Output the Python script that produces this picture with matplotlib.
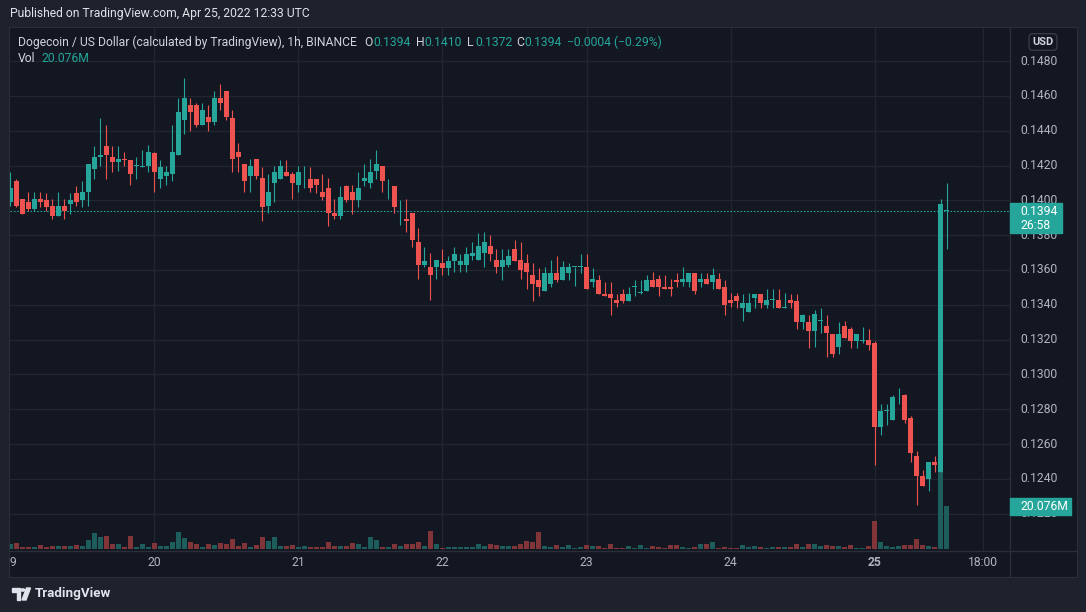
import matplotlib
matplotlib.use("Agg")
import matplotlib.pyplot as plt
import matplotlib.transforms as mtransforms
from matplotlib.patches import Rectangle, Polygon, Circle
import numpy as np

plt.rcParams["font.family"] = ["Roboto", "DejaVu Sans"]

# DOGE/USD hourly candles, from 19 Apr 2022 00:00 UTC
opens = [0.1399, 0.1411, 0.1401, 0.1399, 0.1395, 0.1401, 0.1400, 0.1397, 0.1391, 0.1397,
         0.1398, 0.1404, 0.1400, 0.1405, 0.1418, 0.1425, 0.1431, 0.1425, 0.1422, 0.1424,
         0.1423, 0.1420, 0.1419, 0.1420, 0.1427, 0.1412, 0.1414, 0.1415, 0.1426, 0.1446,
         0.1455, 0.1455, 0.1443, 0.1448, 0.1445, 0.1459, 0.1463, 0.1447, 0.1428, 0.1421,
         0.1414, 0.1424, 0.1413, 0.1397, 0.1410, 0.1412, 0.1416, 0.1415, 0.1409, 0.1412,
         0.1412, 0.1412, 0.1405, 0.1407, 0.1393, 0.1391, 0.1408, 0.1405, 0.1400, 0.1411,
         0.1410, 0.1417, 0.1420, 0.1408, 0.1408, 0.1392, 0.1389, 0.1393, 0.1376, 0.1363,
         0.1362, 0.1362, 0.1364, 0.1361, 0.1365, 0.1363, 0.1363, 0.1368, 0.1366, 0.1370,
         0.1374, 0.1366, 0.1362, 0.1363, 0.1372, 0.1366, 0.1364, 0.1357, 0.1354, 0.1348,
         0.1352, 0.1358, 0.1354, 0.1358, 0.1362, 0.1362, 0.1362, 0.1353, 0.1354, 0.1346,
         0.1346, 0.1343, 0.1346, 0.1342, 0.1350, 0.1347, 0.1348, 0.1354, 0.1355, 0.1350,
         0.1350, 0.1354, 0.1353, 0.1353, 0.1358, 0.1353, 0.1355, 0.1353, 0.1355, 0.1350,
         0.1343, 0.1345, 0.1338, 0.1336, 0.1344, 0.1346, 0.1340, 0.1343, 0.1343, 0.1338,
         0.1343, 0.1342, 0.1330, 0.1330, 0.1325, 0.1331, 0.1328, 0.1323, 0.1316, 0.1328,
         0.1326, 0.1319, 0.1319, 0.1320, 0.1318, 0.1270, 0.1279, 0.1274, 0.1288, 0.1288,
         0.1275, 0.1253, 0.1242, 0.1240, 0.1250, 0.1244, 0.1394]
highs = [0.1416, 0.1412, 0.1401, 0.1405, 0.1405, 0.1405, 0.1404, 0.1401, 0.1405, 0.1401,
         0.1404, 0.1408, 0.1411, 0.1421, 0.1431, 0.1447, 0.1443, 0.1431, 0.1431, 0.1428,
         0.1423, 0.1425, 0.1429, 0.1432, 0.1428, 0.1423, 0.1420, 0.1443, 0.1459, 0.1470,
         0.1459, 0.1456, 0.1456, 0.1455, 0.1463, 0.1467, 0.1463, 0.1452, 0.1433, 0.1421,
         0.1424, 0.1424, 0.1419, 0.1415, 0.1420, 0.1423, 0.1423, 0.1416, 0.1420, 0.1420,
         0.1419, 0.1412, 0.1415, 0.1413, 0.1401, 0.1408, 0.1409, 0.1409, 0.1416, 0.1421,
         0.1424, 0.1429, 0.1420, 0.1412, 0.1408, 0.1400, 0.1401, 0.1393, 0.1384, 0.1373,
         0.1370, 0.1366, 0.1372, 0.1368, 0.1373, 0.1369, 0.1373, 0.1376, 0.1381, 0.1382,
         0.1380, 0.1372, 0.1372, 0.1372, 0.1377, 0.1376, 0.1369, 0.1364, 0.1361, 0.1362,
         0.1366, 0.1368, 0.1365, 0.1364, 0.1362, 0.1369, 0.1369, 0.1361, 0.1357, 0.1353,
         0.1353, 0.1346, 0.1349, 0.1350, 0.1354, 0.1354, 0.1357, 0.1359, 0.1357, 0.1357,
         0.1355, 0.1358, 0.1362, 0.1358, 0.1358, 0.1358, 0.1358, 0.1361, 0.1358, 0.1354,
         0.1347, 0.1347, 0.1346, 0.1347, 0.1346, 0.1346, 0.1349, 0.1349, 0.1349, 0.1347,
         0.1346, 0.1346, 0.1335, 0.1334, 0.1337, 0.1338, 0.1334, 0.1323, 0.1330, 0.1331,
         0.1327, 0.1323, 0.1327, 0.1326, 0.1319, 0.1283, 0.1283, 0.1288, 0.1292, 0.1289,
         0.1276, 0.1256, 0.1245, 0.1250, 0.1253, 0.1401, 0.1410]
lows = [0.1397, 0.1396, 0.1392, 0.1394, 0.1394, 0.1396, 0.1394, 0.1389, 0.1391, 0.1389,
        0.1392, 0.1397, 0.1396, 0.1397, 0.1412, 0.1420, 0.1412, 0.1416, 0.1417, 0.1420,
        0.1409, 0.1412, 0.1419, 0.1416, 0.1405, 0.1407, 0.1409, 0.1411, 0.1426, 0.1438,
        0.1440, 0.1442, 0.1443, 0.1440, 0.1443, 0.1452, 0.1446, 0.1416, 0.1416, 0.1405,
        0.1405, 0.1412, 0.1388, 0.1393, 0.1399, 0.1412, 0.1414, 0.1401, 0.1405, 0.1407,
        0.1405, 0.1404, 0.1400, 0.1385, 0.1389, 0.1389, 0.1399, 0.1392, 0.1396, 0.1408,
        0.1407, 0.1412, 0.1405, 0.1401, 0.1393, 0.1386, 0.1382, 0.1373, 0.1355, 0.1362,
        0.1343, 0.1355, 0.1357, 0.1357, 0.1359, 0.1359, 0.1359, 0.1366, 0.1366, 0.1362,
        0.1365, 0.1358, 0.1354, 0.1362, 0.1365, 0.1355, 0.1349, 0.1342, 0.1345, 0.1348,
        0.1350, 0.1353, 0.1354, 0.1354, 0.1351, 0.1358, 0.1349, 0.1350, 0.1346, 0.1345,
        0.1334, 0.1339, 0.1341, 0.1342, 0.1345, 0.1346, 0.1348, 0.1350, 0.1345, 0.1349,
        0.1345, 0.1350, 0.1351, 0.1350, 0.1346, 0.1350, 0.1352, 0.1349, 0.1349, 0.1334,
        0.1339, 0.1338, 0.1331, 0.1336, 0.1338, 0.1338, 0.1338, 0.1338, 0.1338, 0.1338,
        0.1338, 0.1326, 0.1326, 0.1315, 0.1316, 0.1324, 0.1310, 0.1310, 0.1312, 0.1321,
        0.1315, 0.1315, 0.1318, 0.1314, 0.1248, 0.1265, 0.1271, 0.1274, 0.1283, 0.1272,
        0.1250, 0.1225, 0.1236, 0.1233, 0.1244, 0.1244, 0.1372]
closes = [0.1407, 0.1397, 0.1392, 0.1395, 0.1401, 0.1399, 0.1396, 0.1391, 0.1397, 0.1394,
          0.1400, 0.1399, 0.1405, 0.1421, 0.1425, 0.1426, 0.1426, 0.1422, 0.1424, 0.1423,
          0.1415, 0.1420, 0.1420, 0.1428, 0.1416, 0.1419, 0.1416, 0.1428, 0.1451, 0.1459,
          0.1451, 0.1443, 0.1452, 0.1445, 0.1459, 0.1456, 0.1448, 0.1424, 0.1425, 0.1411,
          0.1420, 0.1414, 0.1396, 0.1405, 0.1416, 0.1420, 0.1414, 0.1410, 0.1416, 0.1412,
          0.1407, 0.1409, 0.1402, 0.1393, 0.1391, 0.1402, 0.1400, 0.1400, 0.1407, 0.1413,
          0.1416, 0.1421, 0.1411, 0.1408, 0.1396, 0.1392, 0.1388, 0.1377, 0.1363, 0.1365,
          0.1357, 0.1366, 0.1361, 0.1365, 0.1369, 0.1365, 0.1369, 0.1370, 0.1374, 0.1376,
          0.1369, 0.1362, 0.1366, 0.1368, 0.1365, 0.1360, 0.1359, 0.1352, 0.1350, 0.1358,
          0.1358, 0.1354, 0.1362, 0.1362, 0.1362, 0.1362, 0.1349, 0.1355, 0.1346, 0.1345,
          0.1344, 0.1341, 0.1342, 0.1346, 0.1351, 0.1347, 0.1354, 0.1350, 0.1350, 0.1349,
          0.1349, 0.1353, 0.1355, 0.1358, 0.1348, 0.1355, 0.1352, 0.1357, 0.1349, 0.1340,
          0.1341, 0.1342, 0.1341, 0.1341, 0.1346, 0.1341, 0.1343, 0.1343, 0.1338, 0.1339,
          0.1341, 0.1330, 0.1334, 0.1325, 0.1335, 0.1331, 0.1324, 0.1312, 0.1323, 0.1321,
          0.1319, 0.1323, 0.1320, 0.1317, 0.1270, 0.1279, 0.1279, 0.1287, 0.1288, 0.1274,
          0.1255, 0.1242, 0.1236, 0.1250, 0.1248, 0.1398, 0.1394]
# volume in millions
volumes = [2.3, 2.8, 0.9, 0.9, 0.9, 1.9, 0.9, 1.4, 1.4, 1.4,
           1.4, 1.9, 1.4, 4.2, 7.5, 5.6, 6.1, 2.3, 2.3, 0.9,
           6.1, 0.9, 2.3, 0.9, 2.8, 1.4, 1.4, 3.3, 7.9, 5.1,
           3.3, 2.3, 0.9, 2.3, 1.9, 2.8, 2.3, 4.7, 1.4, 2.8,
           0.9, 1.9, 5.6, 3.7, 5.6, 1.4, 1.4, 1.9, 0.9, 1.4,
           0.9, 0.9, 0.9, 3.3, 1.4, 1.4, 1.4, 2.8, 2.3, 0.9,
           5.6, 4.2, 0.9, 0.9, 2.3, 1.4, 2.3, 2.3, 3.3, 1.4,
           8.4, 2.3, 0.5, 0.9, 0.9, 0.9, 0.9, 0.9, 2.3, 1.4,
           2.3, 1.9, 1.4, 1.4, 1.4, 2.3, 3.7, 3.3, 7.9, 1.4,
           0.9, 1.9, 0.9, 1.9, 0.5, 0.9, 1.9, 1.4, 1.4, 0.5,
           2.3, 0.5, 0.5, 1.4, 0.5, 1.9, 0.5, 1.4, 0.9, 0.5,
           1.9, 1.9, 0.9, 0.5, 0.9, 2.3, 2.3, 3.3, 0.5, 0.9,
           0.5, 0.5, 1.9, 0.9, 1.4, 0.9, 0.5, 0.9, 0.9, 0.9,
           0.9, 2.3, 0.9, 2.3, 2.3, 1.4, 1.9, 1.4, 1.4, 0.9,
           1.9, 0.5, 0.5, 1.4, 13.1, 3.3, 1.4, 0.9, 1.4, 1.9,
           1.9, 4.7, 1.9, 1.4, 0.9, 75.0, 20.076]

day_ticks = [0, 24, 48, 72, 96, 120, 144, 162]
day_labels = ["19", "20", "21", "22", "23", "24", "25", "18:00"]
price_ticks = [0.1220, 0.1240, 0.1260, 0.1280, 0.1300, 0.1320, 0.1340,
               0.1360, 0.1380, 0.1400, 0.1420, 0.1440, 0.1460, 0.1480]

BG = "#131722"
OUTER = "#1e222d"
GRID = "#222631"
BORDER = "#2a2e39"
UP = "#26a69a"
DOWN = "#ef5350"
VUP = "#1d5e5d"
VDOWN = "#813539"
TXT = "#d1d4dc"
AXT = "#b2b5be"

W, H = 1086, 612
fig = plt.figure(figsize=(W / 100, H / 100), dpi=100, facecolor=OUTER)


def rect(x0, y0, x1, y1):
    return [x0 / W, 1 - y1 / H, (x1 - x0) / W, (y1 - y0) / H]


frame = fig.add_axes(rect(9, 27, 1077, 577))
frame.set_facecolor(BG)
frame.set_xticks([])
frame.set_yticks([])
frame.set_xlim(0, 1)
frame.set_ylim(0, 1)
for s in frame.spines.values():
    s.set_color(BORDER)
# separators of the price scale and the time scale
frame.axvline((1010 - 9) / 1068, color=BORDER, lw=1)
frame.axhline(1 - (551 - 27) / 550, color=BORDER, lw=1)

axv = fig.add_axes(rect(10, 28, 1010, 551))
ax = fig.add_axes(rect(10, 28, 1010, 551))
axv.set_zorder(1)
ax.set_zorder(2)
for a in (ax, axv):
    a.patch.set_visible(False)
    a.axis("off")

hours = np.arange(len(opens))
o = np.array(opens)
h = np.array(highs)
l = np.array(lows)
c = np.array(closes)
v = np.array(volumes)
up = c >= o

ppx = 0.0020 / 34.83          # price per pixel
vpx = 20.076 / 43              # volume per pixel
ax.set_xlim(-0.08, 166.58)
ax.set_ylim(0.1240 - 72 * ppx, 0.1480 + 33 * ppx)
axv.set_xlim(-0.08, 166.58)
axv.set_ylim(-2 * vpx, 521 * vpx)

# grid, drawn behind the volume
gtr = mtransforms.blended_transform_factory(axv.transAxes, ax.transData)
for p in price_ticks:
    axv.plot([0, 1], [p, p], color=GRID, lw=1, transform=gtr, zorder=0)
for d in day_ticks[1:]:
    axv.axvline(d, color=GRID, lw=1, zorder=0)

axv.bar(hours, v, width=0.8, color=np.where(up, VUP, VDOWN), linewidth=0, zorder=2)

cols = np.where(up, UP, DOWN)
ax.vlines(hours, l, h, colors=cols, lw=0.8, zorder=3)
ax.bar(hours, np.maximum(np.abs(c - o), 0.6 * ppx), bottom=np.minimum(o, c),
       width=0.8, color=cols, linewidth=0, zorder=4)

last = closes[-1]
ax.axhline(last, color=UP, lw=0.8, ls=(0, (1.4, 1.6)), zorder=2)

# price scale
ytr = mtransforms.blended_transform_factory(ax.transAxes, ax.transData)
for p in price_ticks:
    ax.text(1.0105, p, f"{p:.4f}", transform=ytr, ha="left", va="center",
            color=AXT, fontsize=8.7, clip_on=False, zorder=5)
ax.add_patch(Rectangle((1.0, last - 22 * ppx), 0.052, 30 * ppx, transform=ytr,
                       color=UP, clip_on=False, zorder=10))
ax.text(1.0105, last - 0.5 * ppx, f"{last:.4f}", transform=ytr, ha="left", va="center",
        color="white", fontsize=8.7, clip_on=False, zorder=11)
ax.text(1.0105, last - 15 * ppx, "26:58", transform=ytr, ha="left", va="center",
        color="white", fontsize=8.7, clip_on=False, zorder=11)

vtr = mtransforms.blended_transform_factory(ax.transAxes, axv.transData)
vlast = volumes[-1]
ax.add_patch(Rectangle((1.0, vlast - 8.5 * vpx), 0.061, 17 * vpx, transform=vtr,
                       color=UP, clip_on=False, zorder=10))
ax.text(1.0105, vlast, f"{vlast:.3f}M", transform=vtr, ha="left", va="center",
        color="white", fontsize=8.7, clip_on=False, zorder=11)

# time scale
ttr = mtransforms.blended_transform_factory(ax.transData, frame.transAxes)
for d, lab in zip(day_ticks, day_labels):
    frame.text(d, 1 - (563 - 27) / 550, lab, transform=ttr, ha="center", va="center",
               color=AXT, fontsize=8.7, clip_on=True,
               fontweight="bold" if lab == "25" else "normal")

fig.text(1043 / W, 1 - 42 / H, "USD", ha="center", va="center", color=TXT, fontsize=8,
         fontweight="bold",
         bbox=dict(boxstyle="round,pad=0.3,rounding_size=0.35", fc=BG, ec="#363a45", lw=1))

# header
fig.text(10 / W, 1 - 14 / H, "Published on TradingView.com, Apr 25, 2022 12:33 UTC",
         ha="left", va="center", color="#e0e3eb", fontsize=8.7)
ly = 1 - 42 / H
fig.text(18 / W, ly, "Dogecoin / US Dollar (calculated by TradingView), 1h, BINANCE",
         ha="left", va="center", color=TXT, fontsize=8.7)
legend = [("O", 364, TXT), (f"{opens[-1]:.4f}", 373, UP),
          ("H", 416, TXT), (f"{highs[-1]:.4f}", 424, UP),
          ("L", 467, TXT), (f"{lows[-1]:.4f}", 475, UP),
          ("C", 516, TXT), (f"{closes[-1]:.4f}", 524, UP),
          ("\u22120.0004 (\u22120.29%)", 567, UP)]
for s, x, col in legend:
    fig.text(x / W, ly, s, ha="left", va="center", color=col, fontsize=8.7)
fig.text(18 / W, 1 - 59 / H, "Vol", ha="left", va="center", color=TXT, fontsize=8.7)
fig.text(41 / W, 1 - 59 / H, f"{vlast:.3f}M", ha="left", va="center", color=UP, fontsize=8.7)

# footer logo
ft = fig.transFigure
logo_col = "#e0e3eb"


def fp(x, y):
    return (x / W, 1 - y / H)


fig.add_artist(Polygon([fp(12, 588), fp(20, 588), fp(20, 600), fp(16.5, 600),
                        fp(16.5, 591.5), fp(12, 591.5)], closed=True,
                       color=logo_col, transform=ft))
fig.add_artist(Circle(fp(22.8, 590), 2.0 / W, color=logo_col, transform=ft))
fig.add_artist(Polygon([fp(26.5, 588), fp(30.5, 588), fp(26, 600), fp(22, 600)],
                       closed=True, color=logo_col, transform=ft))
fig.text(35 / W, 1 - 594 / H, "TradingView", ha="left", va="center", color=logo_col,
         fontsize=9.6, fontweight="bold")

fig.savefig("out.png", dpi=100, facecolor=OUTER)
